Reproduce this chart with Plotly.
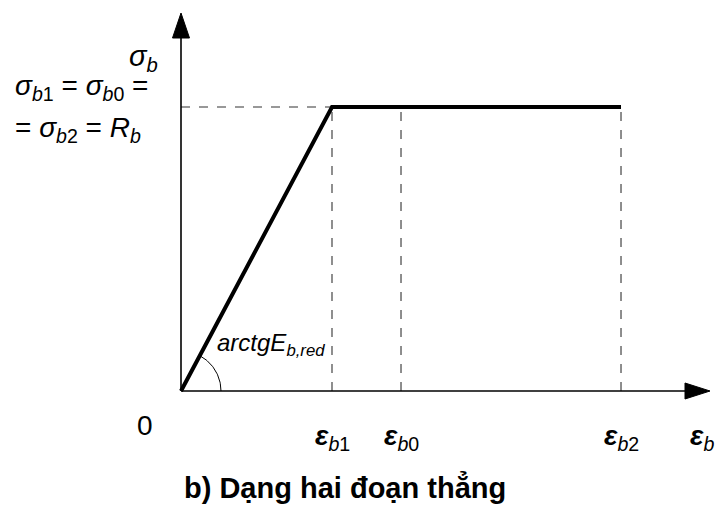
import numpy as np
import plotly.graph_objects as go

# ---- data (normalised units: eps_b1 = 1, R_b = 1) ----
eps_points = [0.0, 1.0, 2.914]      # 0, eps_b1, eps_b2
sig_points = [0.0, 1.0, 1.0]        # 0, R_b, R_b
eps_marks = [1.0, 1.457, 2.914]     # eps_b1, eps_b0, eps_b2
eps_labels = ["<b><i>ε</i></b><sub><i>b</i>1</sub>",
              "<b><i>ε</i></b><sub><i>b</i>0</sub>",
              "<b><i>ε</i></b><sub><i>b</i>2</sub>"]
R_b = 1.0

# ---- pixel geometry of the canvas ----
W, H = 715, 506
OX, OY = 181, 391          # origin in pixels
SX, SY = 151, 284          # pixels per unit

def X(px):
    return (px - OX) / SX

def Y(py):
    return (OY - py) / SY

fig = go.Figure()

# dashed guide lines
dash_style = dict(color="#333333", width=1.1, dash="dash")
fig.add_trace(go.Scatter(x=[0, eps_marks[0]], y=[R_b, R_b], mode="lines",
                         line=dash_style, hoverinfo="skip"))
for e in eps_marks:
    fig.add_trace(go.Scatter(x=[e, e], y=[0, R_b], mode="lines",
                             line=dash_style, hoverinfo="skip"))

# axes with arrowheads
axis_style = dict(color="black", width=1.6)
fig.add_trace(go.Scatter(x=[0, X(690)], y=[0, 0], mode="lines", line=axis_style, hoverinfo="skip"))
fig.add_trace(go.Scatter(x=[0, 0], y=[0, Y(35)], mode="lines", line=axis_style, hoverinfo="skip"))
fig.add_trace(go.Scatter(x=[X(685), X(710), X(685), X(685)], y=[Y(383), Y(391), Y(399), Y(383)],
                         mode="lines", fill="toself", fillcolor="black",
                         line=dict(color="black", width=1), hoverinfo="skip"))
fig.add_trace(go.Scatter(x=[X(172.5), X(181), X(189.5), X(172.5)], y=[Y(38), Y(13), Y(38), Y(38)],
                         mode="lines", fill="toself", fillcolor="black",
                         line=dict(color="black", width=1), hoverinfo="skip"))

# angle arc
theta = np.arctan2(SY * sig_points[1], SX * eps_points[1])
t = np.linspace(0, theta, 40)
r = 40
fig.add_trace(go.Scatter(x=r * np.cos(t) / SX, y=r * np.sin(t) / SY, mode="lines",
                         line=dict(color="black", width=1), hoverinfo="skip"))

# main curve
fig.add_trace(go.Scatter(x=eps_points, y=sig_points, mode="lines",
                         line=dict(color="black", width=4), hoverinfo="skip"))

FAM = "Liberation Sans, Arial"
ann = []
big = dict(family=FAM, size=28, color="black")
ann.append(dict(x=X(127), y=Y(58), text="<i>σ</i><sub><i>b</i></sub>", xanchor="left", yanchor="middle",
                font=dict(family=FAM, size=29, color="black")))
ann.append(dict(x=X(13), y=Y(87), text="<i>σ</i><sub><i>b</i>1</sub> = <i>σ</i><sub><i>b</i>0</sub> =",
                xanchor="left", yanchor="middle", font=big))
ann.append(dict(x=X(13), y=Y(129), text="= <i>σ</i><sub><i>b</i>2</sub> = <i>R</i><sub><i>b</i></sub>",
                xanchor="left", yanchor="middle", font=big))
ann.append(dict(x=X(145), y=Y(425), text="0", xanchor="center", yanchor="middle",
                font=dict(family=FAM, size=28, color="black")))
eps_font = dict(family=FAM, size=28, color="black")
for e, lab in zip(eps_marks, eps_labels):
    ann.append(dict(x=e, y=Y(437), text=lab, xanchor="center", yanchor="middle", font=eps_font))
ann.append(dict(x=X(702), y=Y(437), text="<b><i>ε</i></b><sub><i>b</i></sub>", xanchor="center", yanchor="middle",
                font=eps_font))
ann.append(dict(x=X(215), y=Y(344), text="<i>arctgE</i><sub><i>b,red</i></sub>", xanchor="left", yanchor="middle",
                font=dict(family=FAM, size=24, color="black")))
ann.append(dict(x=X(345), y=Y(487), text="<b>b) Dạng hai đoạn thẳng</b>", xanchor="center", yanchor="middle",
                font=dict(family=FAM, size=29, color="black")))
for a in ann:
    a.update(xref="x", yref="y", showarrow=False)

fig.update_layout(
    width=W, height=H, autosize=False,
    margin=dict(l=0, r=0, t=0, b=0),
    paper_bgcolor="white", plot_bgcolor="white",
    showlegend=False,
    xaxis=dict(visible=False, range=[X(0), X(W)], fixedrange=True),
    yaxis=dict(visible=False, range=[Y(H), Y(0)], fixedrange=True),
    annotations=ann,
)

fig.write_html("out.html", config={"displayModeBar": False},
               post_script="document.body.style.margin='0';document.body.style.overflow='hidden';")
